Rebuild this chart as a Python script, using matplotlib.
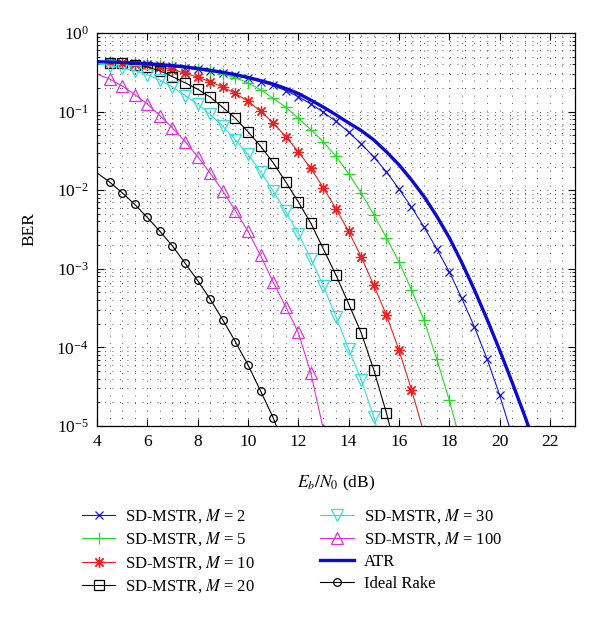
import matplotlib
matplotlib.use('Agg')
import matplotlib.pyplot as plt
from matplotlib.ticker import MultipleLocator, LogLocator, NullFormatter

# ---------------- data ----------------
snr_db = [4.0, 4.5, 5.0, 5.5, 6.0, 6.5, 7.0, 7.5, 8.0, 8.5, 9.0, 9.5,
          10.0, 10.5, 11.0, 11.5, 12.0, 12.5, 13.0, 13.5, 14.0, 14.5, 15.0, 15.5,
          16.0, 16.5, 17.0, 17.5, 18.0, 18.5, 19.0, 19.5, 20.0, 20.5, 21.0, 21.5]

ber_m2 = [0.43, 0.425, 0.42, 0.41, 0.40, 0.39, 0.375, 0.36, 0.345, 0.327, 0.308, 0.288,
          0.265, 0.24, 0.215, 0.185, 0.155, 0.125, 0.098, 0.075, 0.055, 0.039, 0.0265, 0.0172,
          0.0104, 0.0061, 0.0034, 0.0018, 9.2e-4, 4.2e-4, 1.83e-4, 7.2e-5, 2.5e-5, 7.5e-6]
ber_m5 = [0.428, 0.424, 0.419, 0.412, 0.403, 0.392, 0.379, 0.364, 0.347, 0.326, 0.300, 0.270,
          0.232, 0.19, 0.148, 0.114, 0.082, 0.059, 0.041, 0.027, 0.0163, 0.0092, 0.0049, 0.0025,
          0.00123, 5.4e-4, 2.2e-4, 7.2e-5, 2.14e-5, 5.5e-6]
ber_m10 = [0.428, 0.424, 0.418, 0.408, 0.393, 0.372, 0.342, 0.308, 0.275, 0.24, 0.205, 0.17,
           0.136, 0.101, 0.072, 0.048, 0.031, 0.019, 0.0107, 0.0058, 0.003, 0.00142, 6.2e-4, 2.6e-4,
           9.3e-5, 2.9e-5, 8e-6]
ber_m20 = [0.426, 0.421, 0.411, 0.395, 0.37, 0.33, 0.278, 0.233, 0.193, 0.153, 0.113, 0.082,
           0.0555, 0.0364, 0.0224, 0.0128, 0.0071, 0.0038, 0.00178, 8.3e-4, 3.6e-4, 1.54e-4, 5.2e-5, 1.48e-5,
           3.5e-6]
ber_m30 = [0.405, 0.385, 0.36, 0.332, 0.295, 0.252, 0.205, 0.16, 0.124, 0.092, 0.065, 0.044,
           0.0285, 0.0172, 0.0098, 0.0054, 0.0028, 0.00135, 6.0e-4, 2.45e-4, 9.5e-5, 3.9e-5, 1.3e-5, 3.5e-6]
ber_m100 = [0.30, 0.26, 0.212, 0.165, 0.125, 0.089, 0.062, 0.0415, 0.0268, 0.0165, 0.0098, 0.0055,
            0.0030, 0.00148, 6.8e-4, 3.3e-4, 1.55e-4, 4.7e-5, 9e-6]
ber_atr = [0.431, 0.428, 0.422, 0.415, 0.407, 0.396, 0.385, 0.370, 0.353, 0.335, 0.316, 0.295,
           0.272, 0.248, 0.224, 0.197, 0.170, 0.140, 0.114, 0.091, 0.072, 0.0575, 0.0437, 0.0309,
           0.0211, 0.0135, 0.0083, 0.0047, 0.0025, 0.0012, 5.4e-4, 2.3e-4, 9.3e-5, 3.6e-5, 1.35e-5, 4.8e-6]
ber_rake = [0.0166, 0.0127, 0.0093, 0.0066, 0.0045, 0.0030, 0.00195, 0.00118, 7.1e-4, 4.1e-4, 2.24e-4, 1.18e-4,
            6.0e-5, 2.8e-5, 1.28e-5, 5e-6]

labels = [r'SD-MSTR, $M$ = 2', r'SD-MSTR, $M$ = 5', r'SD-MSTR, $M$ = 10', r'SD-MSTR, $M$ = 20',
          r'SD-MSTR, $M$ = 30', r'SD-MSTR, $M$ = 100', 'ATR', 'Ideal Rake']

# ---------------- style ----------------
plt.rcParams['font.family'] = ['Liberation Serif', 'DejaVu Serif']
plt.rcParams['mathtext.fontset'] = 'stix'
plt.rcParams['font.size'] = 12

fig = plt.figure(figsize=(6.0, 6.19), dpi=100)
ax = fig.add_axes([97/600, 1-426/619, (575-97)/600, (426-33)/619])

blue = '#1515d5'
green = '#22dd22'
red = '#ee2020'
black = 'black'
cyan = '#30e0e0'
magenta = '#e030e0'

me = slice(1, None)
series = [
    (ber_m2, blue, 'x', 6, 0.8),
    (ber_m5, green, '+', 8, 0.8),
    (ber_m10, red, (8, 2, 0), 8, 0.8),
    (ber_m20, black, 's', 6.5, 0.8),
    (ber_m30, cyan, 'v', 9, 0.8),
    (ber_m100, magenta, '^', 9, 0.8),
]
handles = []
for (ber, col, mk, ms, lw), lab in zip(series, labels[:6]):
    h, = ax.plot(snr_db[:len(ber)], ber, color=col, lw=lw, marker=mk, ms=ms,
                 mfc='none', mec=col, mew=0.9, markevery=me, label=lab)
    handles.append(h)
h, = ax.plot(snr_db[:len(ber_atr)], ber_atr, color='#0a0ad0', lw=2.4, label=labels[6])
handles.append(h)
h, = ax.plot(snr_db[:len(ber_rake)], ber_rake, color='black', lw=0.8, marker='o', ms=5.5,
             mfc='none', mec='black', mew=0.9, markevery=me, label=labels[7])
handles.append(h)

ax.set_yscale('log')
ax.set_xlim(4, 23)
ax.set_ylim(1e-5, 1)
ax.xaxis.set_major_locator(MultipleLocator(2))
ax.xaxis.set_minor_locator(MultipleLocator(0.5))
ax.yaxis.set_major_locator(LogLocator(base=10, numticks=10))
ax.yaxis.set_minor_locator(LogLocator(base=10, subs=range(2, 10), numticks=20))
ax.yaxis.set_minor_formatter(NullFormatter())

ax.grid(True, which='both', color='#222222', lw=0.6, linestyle=(0, (1, 8)))
ax.tick_params(which='both', direction='in', top=True, right=True, labelsize=12.5)
ax.tick_params(which='major', length=5, width=0.8, pad=6)
ax.tick_params(which='minor', length=2.5, width=0.6)
ax.tick_params(axis='x', which='minor', length=0)
for sp in ax.spines.values():
    sp.set_linewidth(0.9)

ax.set_xlabel(r'$E_b/N_0$ (dB)', fontsize=12.5, labelpad=17)
ax.set_ylabel('BER', fontsize=12.5, labelpad=14)

leg = fig.legend(handles, labels, ncol=2, loc='upper left',
                 bbox_to_anchor=(82/600, 1-507/619), frameon=False,
                 fontsize=12, handlelength=2.0, handletextpad=0.6,
                 columnspacing=3.9, labelspacing=0.35, borderpad=0, borderaxespad=0,
                 numpoints=1)

fig.savefig('out.png', dpi=100)
